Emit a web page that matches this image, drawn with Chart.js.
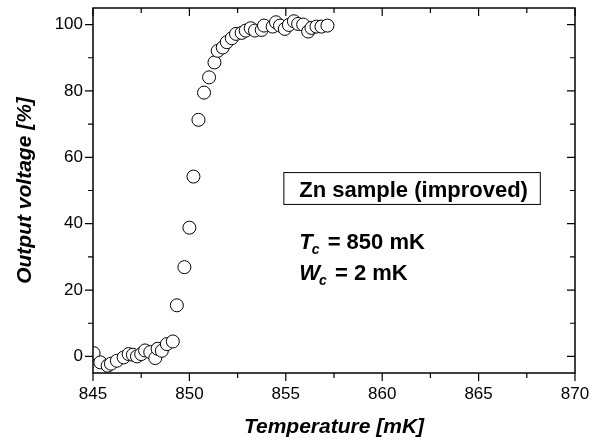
<!DOCTYPE html>
<html>
<head>
<meta charset="utf-8">
<script src="https://cdn.jsdelivr.net/npm/chart.js@4"></script>
<style>
    html, body { margin: 0; padding: 0; background: #fff; }
    #wrap { width: 590px; height: 443px; }
</style>
</head>
<body>
<div id="wrap"><canvas id="graph"></canvas></div>
<script>
// temperature [mK] and output voltage [%]
const temperatures = [845.03, 845.38, 845.76, 845.93, 846.24, 846.59, 846.85, 847.07, 847.28, 847.5,
    847.7, 847.97, 848.23, 848.35, 848.57, 848.83, 849.14, 849.35, 849.74, 850.0,
    850.21, 850.47, 850.76, 851.02, 851.3, 851.47, 851.73, 851.94, 852.2, 852.42,
    852.71, 852.92, 853.18, 853.4, 853.75, 853.87, 854.32, 854.49, 854.7, 854.95,
    855.16, 855.42, 855.64, 855.9, 856.16, 856.33, 856.59, 856.85, 857.16];
const voltages = [1.0, -1.8, -2.8, -2.2, -1.3, -0.3, 0.7, 0.5, 0, 0.7,
    1.8, 1.3, -0.5, 2.3, 1.7, 3.7, 4.5, 15.4, 26.9, 38.8,
    54.2, 71.3, 79.5, 84.1, 88.6, 92.1, 93.1, 94.7, 95.9, 97.2,
    97.5, 98.2, 98.9, 98.2, 98.4, 99.7, 99.4, 100.7, 99.7, 98.7,
    99.9, 101, 100.2, 100, 97.9, 99, 99.4, 99.4, 99.7];

const xTicks = [845, 850, 855, 860, 865, 870];
const xMinorTicks = [847.5, 852.5, 857.5, 862.5, 867.5];
const yTicks = [0, 20, 40, 60, 80, 100];
const yMinorTicks = [10, 30, 50, 70, 90];

const points = temperatures.map((t, i) => ({ x: t, y: voltages[i] }));

const FONT = "'Liberation Sans', Arial, sans-serif";

/**
 * cadre + graduations (majeures et mineures) façon Origin
 */
const framePlugin = {
    id: 'frame',
    afterDraw(chart) {
        const { ctx, chartArea: a, scales: { x, y } } = chart;
        ctx.save();
        ctx.strokeStyle = '#000';
        ctx.lineWidth = 1.5;
        ctx.strokeRect(a.left, a.top, a.right - a.left, a.bottom - a.top);

        ctx.lineWidth = 1.2;
        ctx.beginPath();
        const tickX = (v, len) => {
            const px = x.getPixelForValue(v);
            // bas : vers l'extérieur, haut : vers l'intérieur
            ctx.moveTo(px, a.bottom); ctx.lineTo(px, a.bottom + len);
            ctx.moveTo(px, a.top); ctx.lineTo(px, a.top + len);
        };
        const tickY = (v, len) => {
            const py = y.getPixelForValue(v);
            // gauche : extérieur, droite : intérieur
            ctx.moveTo(a.left, py); ctx.lineTo(a.left - len, py);
            ctx.moveTo(a.right, py); ctx.lineTo(a.right - len, py);
        };
        xTicks.forEach(v => tickX(v, 8));
        xMinorTicks.forEach(v => tickX(v, 5));
        yTicks.forEach(v => tickY(v, 8));
        yMinorTicks.forEach(v => tickY(v, 5));
        ctx.stroke();

        // encadré + texte
        const bx1 = x.getPixelForValue(854.9), bx2 = x.getPixelForValue(868.2);
        const by1 = y.getPixelForValue(55.4), by2 = y.getPixelForValue(45.8);
        ctx.lineWidth = 1;
        ctx.strokeRect(bx1, by1, bx2 - bx1, by2 - by1);
        ctx.fillStyle = '#000';
        ctx.textBaseline = 'alphabetic';
        ctx.textAlign = 'left';
        ctx.font = 'bold 22px ' + FONT;
        const tx = x.getPixelForValue(855.7);
        ctx.fillText('Zn sample (improved)', tx, by1 + 24);

        const drawParam = (letter, rest, baseline) => {
            ctx.font = 'italic bold 22px ' + FONT;
            ctx.fillText(letter, tx, baseline);
            let w = ctx.measureText(letter).width;
            ctx.font = 'italic bold 14px ' + FONT;
            ctx.fillText('c', tx + w - 1, baseline + 5);
            w += ctx.measureText('c').width;
            ctx.font = 'bold 22px ' + FONT;
            ctx.fillText(rest, tx + w + 1, baseline);
        };
        drawParam('T', ' = 850 mK', y.getPixelForValue(32.4));
        drawParam('W', ' = 2 mK', y.getPixelForValue(23));
        ctx.restore();
    }
};

new Chart(document.getElementById('graph'), {
    type: 'scatter',
    data: {
        datasets: [{
            data: points,
            pointRadius: 6.5,
            pointHoverRadius: 6.5,
            pointBorderWidth: 1,
            borderColor: '#000',
            backgroundColor: '#fff',
            showLine: false
        }]
    },
    options: {
        responsive: true,
        maintainAspectRatio: false,
        animation: false,
        events: [],
        layout: { padding: { left: 0, right: 15, top: 8, bottom: 0 } },
        plugins: {
            legend: { display: false },
            tooltip: { enabled: false }
        },
        scales: {
            x: {
                type: 'linear',
                min: 845,
                max: 870,
                grid: { display: false },
                border: { display: false },
                afterBuildTicks: (scale) => { scale.ticks = xTicks.map(v => ({ value: v })); },
                afterFit: (scale) => {
                    scale.height = 70;
                    scale.paddingLeft = 0;
                    scale.paddingRight = 0;
                },
                ticks: {
                    color: '#000',
                    padding: 3,
                    maxRotation: 0,
                    font: { family: FONT, size: 17 }
                },
                title: {
                    display: true,
                    text: 'Temperature [mK]',
                    color: '#000',
                    padding: { top: 0, bottom: 3 },
                    font: { family: FONT, size: 21, weight: 'bold', style: 'italic' }
                }
            },
            y: {
                type: 'linear',
                min: -5,
                max: 105,
                grid: { display: false },
                border: { display: false },
                afterBuildTicks: (scale) => { scale.ticks = yTicks.map(v => ({ value: v })); },
                afterFit: (scale) => {
                    scale.width = 93;
                    scale.paddingTop = 0;
                    scale.paddingBottom = 0;
                },
                ticks: {
                    color: '#000',
                    padding: 2,
                    font: { family: FONT, size: 17 }
                },
                title: {
                    display: true,
                    text: 'Output voltage [%]',
                    color: '#000',
                    padding: { top: 13, bottom: 0 },
                    font: { family: FONT, size: 21, weight: 'bold', style: 'italic' }
                }
            }
        }
    },
    plugins: [framePlugin]
});
</script>
</body>
</html>
